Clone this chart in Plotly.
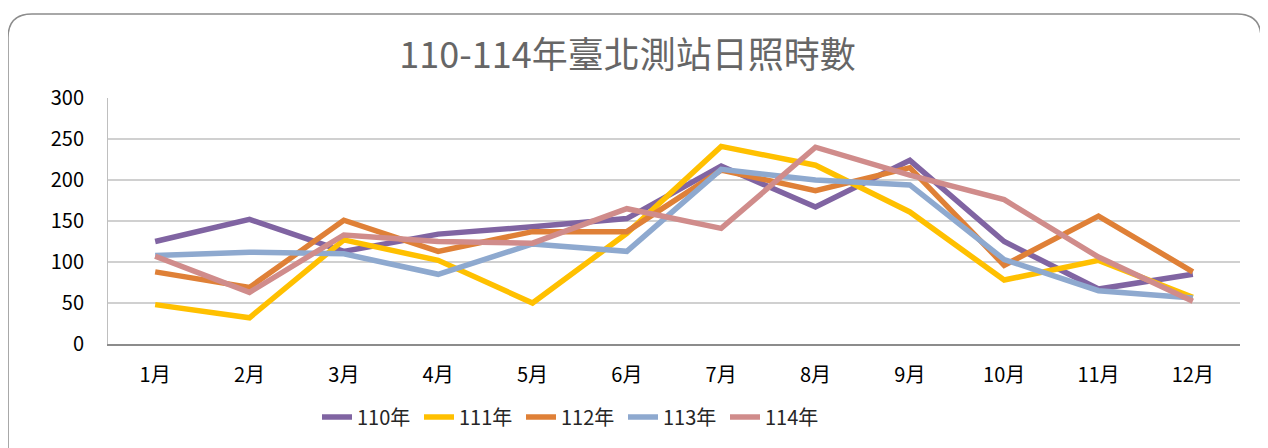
import plotly.graph_objects as go

# 臺北測站每月日照時數（小時）
months = ['1月', '2月', '3月', '4月', '5月', '6月', '7月', '8月', '9月', '10月', '11月', '12月']
y110 = [125, 152, 113, 134, 143, 153, 217, 167, 224, 125, 67, 85]
y111 = [48, 32, 127, 102, 50, 135, 241, 218, 161, 78, 102, 57]
y112 = [88, 69, 151, 113, 137, 137, 212, 187, 215, 96, 156, 88]
y113 = [108, 112, 110, 85, 122, 113, 213, 200, 194, 103, 65, 56]
y114 = [107, 63, 133, 125, 123, 165, 141, 240, 206, 176, 106, 52]

series = [
    ('110年', y110, '#8064A2'),
    ('111年', y111, '#FFC000'),
    ('112年', y112, '#DF8037'),
    ('113年', y113, '#8EA9CF'),
    ('114年', y114, '#D08C8B'),
]

FONT = 'Noto Sans CJK TC'

fig = go.Figure()
for name, vals, color in series:
    fig.add_trace(go.Scatter(x=months, y=vals, name=name, mode='lines',
                             line=dict(color=color, width=5.5)))

# page body has an 8px margin, so the figure is a bit smaller than the window
W, H, L, R, T, B = 1260, 440, 100, 28, 90, 104
pw, ph = W - L - R, H - T - B
def px(x): return (x - L) / pw
def py(y): return (H - B - y) / ph

# rounded frame around the chart
x0, x1, y0, y1, r = 0, 1253, 6, 470, 24
path = (f'M {px(x0)},{py(y1)} L {px(x0)},{py(y0 + r)} '
        f'Q {px(x0)},{py(y0)} {px(x0 + r)},{py(y0)} '
        f'L {px(x1 - r)},{py(y0)} '
        f'Q {px(x1)},{py(y0)} {px(x1)},{py(y0 + r)} '
        f'L {px(x1)},{py(y1)}')
fig.add_shape(type='path', path=path, xref='paper', yref='paper',
              line=dict(color='#8c8c8c', width=1.5), layer='below')

fig.update_layout(
    width=W, height=H,
    margin=dict(l=L, r=R, t=T, b=B),
    paper_bgcolor='white', plot_bgcolor='white',
    font=dict(family=FONT, size=20, color='#000000'),
    title=dict(text='110-114年臺北測站日照時數', x=619.5 / W, xanchor='center',
               y=1 - 47 / H, yanchor='middle',
               font=dict(family=FONT, size=36, color='#666666')),
    showlegend=True,
    legend=dict(orientation='h', x=px(309), xanchor='left', y=py(409), yanchor='middle',
                font=dict(family=FONT, size=20, color='#262626'),
                entrywidth=57),
)
fig.update_xaxes(type='category', range=[-0.5, 11.5], showgrid=False,
                 showline=True, linecolor='#8c8c8c', linewidth=2,
                 ticks='', ticklabelstandoff=12, tickfont=dict(size=20))
fig.update_yaxes(range=[0, 300], dtick=50, showgrid=True, gridcolor='#d0d0d0',
                 gridwidth=1.5, zeroline=False, showline=True, linecolor='#bfbfbf',
                 linewidth=1, ticks='', ticklabelstandoff=19, tickfont=dict(size=20))

fig.write_html('out.html')
